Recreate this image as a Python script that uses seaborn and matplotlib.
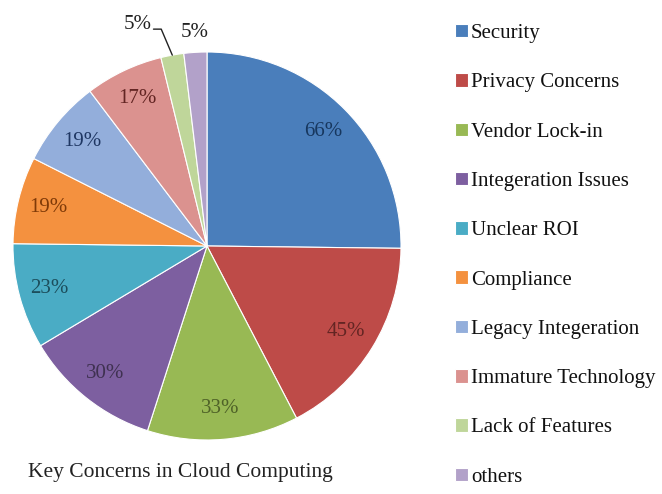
import numpy as np
import matplotlib
matplotlib.use("Agg")
import matplotlib.pyplot as plt
import seaborn as sns

categories = ["Security", "Privacy Concerns", "Vendor Lock-in", "Integeration Issues",
              "Unclear ROI", "Compliance", "Legacy Integeration", "Immature Technology",
              "Lack of Features", "others"]
values = [66, 45, 33, 30, 23, 19, 19, 17, 5, 5]
title = "Key Concerns in Cloud Computing"

slice_colors = ["#4A7EBB", "#BE4B48", "#98B954", "#7D5FA0", "#4AACC5",
                "#F4913F", "#93AEDB", "#DB928F", "#BFD69A", "#B2A1C9"]
label_colors = ["#17375E", "#632523", "#4F6228", "#3F3151", "#1C4E5C",
                "#7F3A08", "#1F3763", "#632523", "#222222", "#222222"]

sns.set_theme(style="white")
plt.rcParams['font.family'] = ['Liberation Serif', 'DejaVu Serif']

W, H = 662, 494
fig = plt.figure(figsize=(W / 100, H / 100), dpi=100)
fig.patch.set_facecolor("white")

# pie axes: centre ~ (207,246) px, radius ~194 px
cx, cy, r = 207, 246, 194
ax = fig.add_axes([(cx - r) / W, (H - cy - r) / H, 2 * r / W, 2 * r / H])
palette = sns.color_palette(slice_colors)
wedges, _ = ax.pie(values, colors=palette, startangle=90, counterclock=False,
                   radius=1.0, wedgeprops=dict(edgecolor="white", linewidth=0.8))
ax.set_xlim(-1, 1)
ax.set_ylim(-1, 1)
ax.set_aspect("equal")
ax.axis("off")

fs_lab = 15
for i, (w, v) in enumerate(zip(wedges, values)):
    mid = np.deg2rad((w.theta1 + w.theta2) / 2)
    txt = f"{v}%"
    if v >= 10:
        ax.text(0.84 * np.cos(mid), 0.84 * np.sin(mid), txt, ha="center", va="center",
                fontsize=fs_lab, color=label_colors[i])
    elif i == len(values) - 1:
        ax.text(1.10 * np.cos(mid), 1.10 * np.sin(mid), txt, ha="center", va="center",
                fontsize=fs_lab, color=label_colors[i], clip_on=False)
    else:
        ex, ey = np.cos(mid), np.sin(mid)
        elx, ely = ex - 0.057, ey + 0.134
        lx = elx - 0.04
        ax.plot([ex, elx, lx], [ey, ely, ely], color="#222222", lw=1.0, clip_on=False)
        ax.text(lx - 0.01, ely + 0.025, txt, ha="right", va="center",
                fontsize=fs_lab, color=label_colors[i], clip_on=False)

fig.text(180 / W, 1 - 472 / H, title, ha="center", va="center", fontsize=15.5, color="#222222")

leg = fig.legend(wedges, categories, loc="upper left",
                 bbox_to_anchor=(455 / W, 1 - 24 / H), frameon=False,
                 fontsize=15, handlelength=0.62, handleheight=0.62,
                 handletextpad=0.15, labelspacing=1.45, borderpad=0, borderaxespad=0)
for t in leg.get_texts():
    t.set_color("#111111")

fig.savefig("out.png", dpi=100, facecolor="white")
